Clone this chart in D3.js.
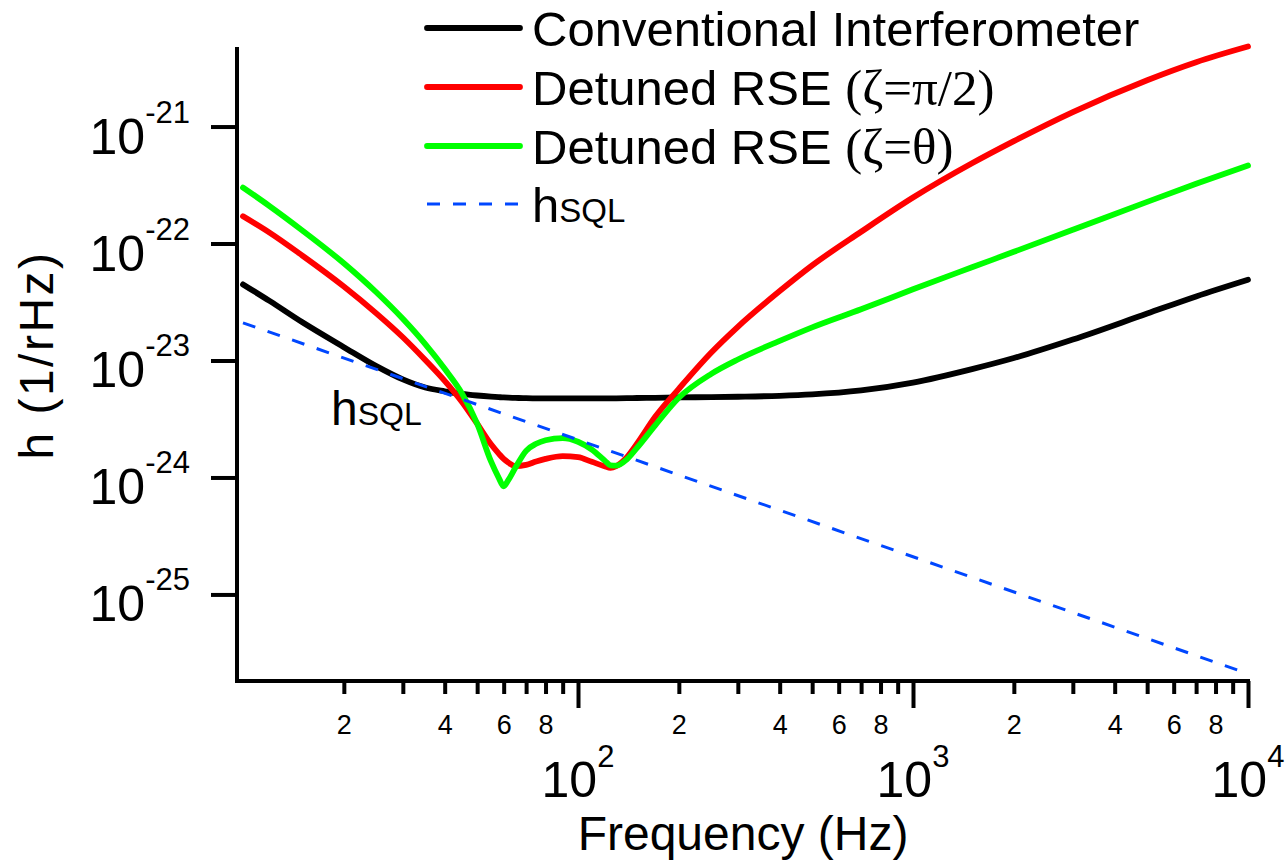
<!DOCTYPE html>
<html>
<head>
<meta charset="utf-8">
<script src="https://cdn.jsdelivr.net/npm/d3@7"></script>
<style>
html, body { margin: 0; padding: 0; background: #ffffff; }
svg { display: block; }
text { font-family: "Liberation Sans", Arial, Helvetica, sans-serif; fill: #000; }
</style>
</head>
<body>
<svg id="chart" width="1285" height="863"></svg>
<script>
// ---------------- DATA ----------------
const frequencies = [10, 12, 15, 20, 25, 30, 35, 40, 45, 50, 55, 58, 60, 62, 65, 70, 75, 80, 90, 100,
  110, 120, 125, 130, 140, 150, 170, 200, 250, 300, 400, 500, 700, 1000, 1500, 2000, 3000, 5000, 7000, 10000];

const conventional = [4.47e-23, 3.23e-23, 2.13e-23, 1.30e-23, 8.95e-24, 6.89e-24, 5.87e-24, 5.45e-24, 5.18e-24, 5.02e-24,
  4.91e-24, 4.86e-24, 4.83e-24, 4.81e-24, 4.79e-24, 4.76e-24, 4.75e-24, 4.74e-24, 4.74e-24, 4.74e-24,
  4.74e-24, 4.75e-24, 4.75e-24, 4.75e-24, 4.76e-24, 4.78e-24, 4.80e-24, 4.84e-24, 4.86e-24, 4.90e-24,
  4.99e-24, 5.13e-24, 5.55e-24, 6.47e-24, 8.44e-24, 1.05e-23, 1.51e-23, 2.52e-23, 3.53e-23, 4.90e-23];

const detunedPi2 = [1.71e-22, 1.24e-22, 7.93e-23, 4.29e-23, 2.53e-23, 1.58e-23, 1.01e-23, 6.70e-24, 4.44e-24, 2.88e-24,
  1.92e-24, 1.60e-24, 1.44e-24, 1.34e-24, 1.25e-24, 1.28e-24, 1.37e-24, 1.44e-24, 1.52e-24, 1.49e-24,
  1.36e-24, 1.25e-24, 1.21e-24, 1.25e-24, 1.49e-24, 1.94e-24, 3.30e-24, 5.73e-24, 1.17e-23, 1.94e-23,
  3.92e-23, 6.50e-23, 1.26e-22, 2.47e-22, 4.85e-22, 7.50e-22, 1.33e-21, 2.49e-21, 3.55e-21, 4.83e-21];

const detunedTheta = [3.01e-22, 2.09e-22, 1.30e-22, 6.78e-23, 3.83e-23, 2.27e-23, 1.38e-23, 8.49e-24, 5.25e-24, 2.88e-24,
  1.37e-24, 9.94e-25, 8.41e-25, 9.55e-25, 1.21e-24, 1.69e-24, 1.94e-24, 2.08e-24, 2.17e-24, 2.02e-24,
  1.73e-24, 1.40e-24, 1.27e-24, 1.26e-24, 1.43e-24, 1.79e-24, 2.79e-24, 4.80e-24, 7.69e-24, 1.02e-23,
  1.47e-23, 1.92e-23, 2.74e-23, 4.06e-23, 6.26e-23, 8.49e-23, 1.31e-22, 2.27e-22, 3.24e-22, 4.64e-22];

const sqlFrequencies = [10, 100, 1000, 10000];
const sqlValues = [2.1e-23, 2.1e-24, 2.1e-25, 2.1e-26];

const yTickValues = [1e-21, 1e-22, 1e-23, 1e-24, 1e-25];
const yTickExponents = ["-21", "-22", "-23", "-24", "-25"];

const xMinorTicks = [20, 30, 40, 50, 60, 70, 80, 90,
  200, 300, 400, 500, 600, 700, 800, 900,
  2000, 3000, 4000, 5000, 6000, 7000, 8000, 9000];
const xMinorLabeled = [2, 4, 6, 8];
const xMajorTicks = [100, 1000, 10000];
const xMajorExponents = ["2", "3", "4"];

const xTitle = "Frequency (Hz)";
const yTitle = "h (1/rHz)";

const legendEntries = [
  { parts: [{ t: "Conventional Interferometer" }], color: "#000000", dash: null },
  { parts: [{ t: "Detuned RSE " }, { t: "(\u03B6=\u03C0/2)", serif: true }], color: "#ff0000", dash: null },
  { parts: [{ t: "Detuned RSE " }, { t: "(\u03B6=\u03B8)", serif: true }], color: "#00ff00", dash: null },
  { parts: [{ t: "h" }, { t: "SQL", small: true }], color: "#0047ff", dash: "13,13" }
];

// ---------------- LAYOUT ----------------
const svg = d3.select("#chart");
svg.append("rect").attr("width", 1285).attr("height", 863).attr("fill", "#fff");

const axisX = 237, plotTop = 47, plotBottom = 681, xLeftStart = 235;
const x = d3.scaleLog().domain([10, 1e4]).range([243, 1248]);
const y = d3.scaleLog().domain([Math.pow(10, -25.74), Math.pow(10, -20.32)]).range([plotBottom, plotTop]);

// ---------------- AXES ----------------
const gy = svg.append("g").attr("transform", `translate(${axisX},0)`)
  .call(d3.axisLeft(y).tickValues(yTickValues).tickSize(26).tickFormat(""));
gy.select(".domain").remove();
gy.selectAll(".tick line").attr("stroke", "#000").attr("stroke-width", 4);
svg.append("line").attr("x1", axisX).attr("x2", axisX).attr("y1", plotTop).attr("y2", plotBottom + 2)
  .attr("stroke", "#000").attr("stroke-width", 4);

yTickValues.forEach((v, i) => {
  const t = svg.append("text").attr("x", 190).attr("y", y(v) + 27).attr("text-anchor", "end");
  t.append("tspan").style("font-size", "50px").text("10");
  t.append("tspan").style("font-size", "31px").attr("dy", -31).text(yTickExponents[i]);
});

const gxMinor = svg.append("g").attr("transform", `translate(0,${plotBottom})`)
  .call(d3.axisBottom(x).tickValues(xMinorTicks).tickSize(13)
    .tickFormat(d => {
      const m = Math.round(d / Math.pow(10, Math.floor(Math.log10(d) + 1e-9)));
      return xMinorLabeled.includes(m) ? String(m) : "";
    }));
gxMinor.select(".domain").remove();
gxMinor.selectAll(".tick line").attr("stroke", "#000").attr("stroke-width", 4);
gxMinor.selectAll(".tick text").attr("y", 53).attr("dy", null)
  .style("font-size", "27px").style("font-family", "\"Liberation Sans\", Arial, sans-serif").attr("fill", "#000");

const gxMajor = svg.append("g").attr("transform", `translate(0,${plotBottom})`)
  .call(d3.axisBottom(x).tickValues(xMajorTicks).tickSize(27).tickFormat(""));
gxMajor.select(".domain").remove();
gxMajor.selectAll(".tick line").attr("stroke", "#000").attr("stroke-width", 4);

svg.append("line").attr("x1", xLeftStart).attr("x2", x(1e4) + 2).attr("y1", plotBottom).attr("y2", plotBottom)
  .attr("stroke", "#000").attr("stroke-width", 4);

xMajorTicks.forEach((v, i) => {
  const t = svg.append("text").attr("x", x(v)).attr("y", 797).attr("text-anchor", "middle");
  t.append("tspan").style("font-size", "50px").text("10");
  t.append("tspan").style("font-size", "31px").attr("dy", -30).text(xMajorExponents[i]);
});

svg.append("text").attr("x", 743).attr("y", 850).attr("text-anchor", "middle")
  .style("font-size", "48px").text(xTitle);
svg.append("text").attr("transform", "translate(53,355) rotate(-90)").attr("text-anchor", "middle")
  .style("font-size", "48px").style("letter-spacing", "2.5px").text(yTitle);

// ---------------- SERIES ----------------
const line = d3.line().x(d => x(d[0])).y(d => y(d[1])).curve(d3.curveMonotoneX);
const zip = (fs, vs) => fs.map((f, i) => [f, vs[i]]);

const series = [
  { data: zip(frequencies, conventional), color: "#000000" },
  { data: zip(frequencies, detunedPi2), color: "#ff0000" },
  { data: zip(frequencies, detunedTheta), color: "#00ff00" }
];
series.forEach(s => {
  svg.append("path").datum(s.data).attr("d", line)
    .attr("fill", "none").attr("stroke", s.color).attr("stroke-width", 5.8)
    .attr("stroke-linecap", "round").attr("stroke-linejoin", "round");
});
svg.append("path").datum(zip(sqlFrequencies, sqlValues)).attr("d", d3.line().x(d => x(d[0])).y(d => y(d[1])))
  .attr("fill", "none").attr("stroke", "#0047ff").attr("stroke-width", 3).attr("stroke-dasharray", "13,13");

const ann = svg.append("text").attr("x", 331).attr("y", 425);
ann.append("tspan").style("font-size", "48px").text("h");
ann.append("tspan").style("font-size", "32px").text("SQL");

// ---------------- LEGEND ----------------
const legendY = [28, 87, 146, 204];
legendEntries.forEach((e, i) => {
  const ly = legendY[i];
  svg.append("line").attr("x1", 427).attr("x2", 520).attr("y1", ly).attr("y2", ly)
    .attr("stroke", e.color)
    .attr("stroke-width", e.dash ? 3 : 5.8)
    .attr("stroke-linecap", e.dash ? "butt" : "round")
    .attr("stroke-dasharray", e.dash);
  const t = svg.append("text").attr("x", 532).attr("y", ly + 18).style("font-size", "49px");
  e.parts.forEach(p => {
    const ts = t.append("tspan").text(p.t);
    if (p.serif) ts.style("font-family", "\"Liberation Serif\", \"Times New Roman\", \"DejaVu Serif\", serif").style("font-size", "51px");
    if (p.small) ts.style("font-size", "33px");
  });
});
</script>
</body>
</html>
